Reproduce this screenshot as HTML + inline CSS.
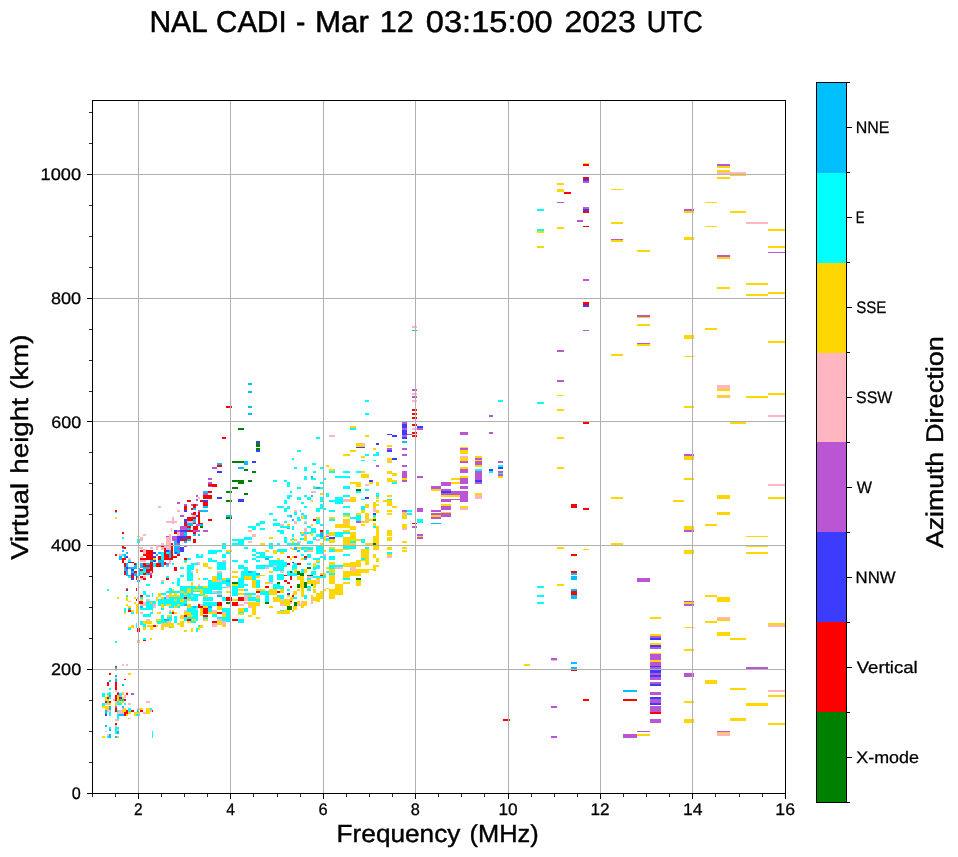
<!DOCTYPE html>
<html lang="en">
<head>
<meta charset="utf-8">
<title>NAL CADI - Mar 12 03:15:00 2023 UTC</title>
<style>
html,body{margin:0;padding:0;background:#fff;}
body{width:958px;height:857px;overflow:hidden;font-family:"Liberation Sans",sans-serif;}
svg{display:block;will-change:transform;}
text{font-family:"Liberation Sans",sans-serif;text-rendering:geometricPrecision;}
</style>
</head>
<body>
<svg width="958" height="857" viewBox="0 0 958 857">
<rect width="958" height="857" fill="#fff"/>
<g id="data" shape-rendering="crispEdges">
<path fill="#00bfff" d="M412 330h5v1h-5zM248 383h4v2h-4zM248 391h4v2h-4zM248 406h4v2h-4zM248 413h4v2h-4zM402 441h5v2h-5zM244 461h4v4h-4zM217 463h5v2h-5zM238 467h6v2h-6zM311 476h2v2h-2zM316 487h4v2h-4zM203 491h5v2h-5zM311 495h2v2h-2zM203 506h5v2h-5zM193 508h3v2h-3zM200 510h8v2h-8zM226 515h6v2h-6zM290 515h2v2h-2zM292 519h2v2h-2zM193 519h3v4h-3zM431 523h10v1h-10zM187 523h6v3h-6zM200 524h3v2h-3zM287 528h3v1h-3zM187 528h4v2h-4zM184 532h3v4h-3zM198 534h2v2h-2zM193 534h3v2h-3zM320 532h3v5h-3zM187 539h4v2h-4zM184 541h3v2h-3zM174 541h3v4h-3zM174 546h6v2h-6zM294 547h3v3h-3zM174 548h3v2h-3zM122 550h2v2h-2zM297 550h3v2h-3zM174 550h6v2h-6zM158 552h3v2h-3zM174 552h1v2h-1zM177 552h3v2h-3zM126 552h2v2h-2zM156 554h2v2h-2zM169 550h2v8h-2zM124 554h2v4h-2zM119 556h3v4h-3zM265 558h4v2h-4zM304 558h3v2h-3zM150 560h3v2h-3zM158 560h6v3h-6zM136 563h1v2h-1zM146 563h4v2h-4zM161 563h3v4h-3zM126 563h2v4h-2zM140 563h3v4h-3zM134 565h3v2h-3zM140 567h10v1h-10zM128 567h9v2h-9zM143 568h7v1h-7zM124 567h2v4h-2zM248 571h4v2h-4zM131 571h3v2h-3zM126 571h2v4h-2zM146 573h4v2h-4zM256 573h4v2h-4zM571 573h6v2h-6zM139 568h1v8h-1zM134 573h3v3h-3zM126 575h5v1h-5zM137 576h2v2h-2zM571 576h6v4h-6zM226 580h4v2h-4zM137 580h3v2h-3zM126 588h2v1h-2zM571 589h6v2h-6zM217 595h5v2h-5zM571 595h6v4h-6zM164 597h2v2h-2zM184 604h3v2h-3zM208 606h4v2h-4zM193 606h3v2h-3zM140 606h3v2h-3zM128 608h3v2h-3zM164 619h5v2h-5zM571 662h6v2h-6zM115 667h2v2h-2zM571 667h6v2h-6zM115 675h2v2h-2zM115 679h2v3h-2zM109 680h2v2h-2zM122 684h2v2h-2zM623 690h14v2h-14zM109 695h2v2h-2zM119 699h5v2h-5zM122 706h2v2h-2zM109 706h2v4h-2zM137 710h2v2h-2zM105 710h2v4h-2zM119 714h5v2h-5zM105 725h2v2h-2zM109 729h2v2h-2zM117 731h2v3h-2zM109 734h2v4h-2zM115 736h2v2h-2z"/>
<path fill="#00ffff" d="M537 209h7v2h-7zM537 229h7v2h-7zM498 400h5v2h-5zM365 400h4v2h-4zM537 402h7v2h-7zM365 413h4v2h-4zM350 428h6v2h-6zM316 437h4v2h-4zM297 450h4v2h-4zM376 452h3v2h-3zM373 454h6v2h-6zM365 454h4v2h-4zM292 458h2v2h-2zM361 460h4v1h-4zM373 460h3v1h-3zM312 463h4v2h-4zM498 465h5v2h-5zM320 467h3v2h-3zM294 467h3v2h-3zM304 467h3v4h-3zM475 469h7v2h-7zM313 471h3v2h-3zM329 471h6v2h-6zM343 471h7v2h-7zM356 471h5v2h-5zM489 471h4v2h-4zM498 473h5v1h-5zM335 476h15v2h-15zM304 476h3v4h-3zM311 478h5v2h-5zM323 478h3v2h-3zM273 480h4v2h-4zM284 480h3v2h-3zM392 482h5v2h-5zM320 482h3v2h-3zM287 482h3v5h-3zM343 486h7v3h-7zM320 487h3v2h-3zM313 487h3v2h-3zM297 487h4v2h-4zM365 489h4v2h-4zM356 491h5v2h-5zM290 491h2v2h-2zM326 493h3v4h-3zM376 493h3v4h-3zM343 495h7v2h-7zM287 495h5v2h-5zM304 495h3v2h-3zM287 497h3v2h-3zM335 497h8v3h-8zM307 497h4v3h-4zM297 497h4v3h-4zM361 499h4v1h-4zM387 499h5v1h-5zM320 497h3v5h-3zM329 500h14v2h-14zM284 500h3v4h-3zM335 502h8v2h-8zM301 502h3v2h-3zM320 504h3v4h-3zM277 506h7v2h-7zM343 506h7v2h-7zM287 506h3v2h-3zM304 506h3v2h-3zM284 508h6v1h-6zM316 508h10v1h-10zM361 506h4v4h-4zM323 509h3v1h-3zM316 509h4v3h-4zM284 509h3v3h-3zM329 510h6v2h-6zM407 510h5v2h-5zM300 510h1v2h-1zM115 512h2v1h-2zM294 512h3v3h-3zM343 513h7v2h-7zM407 513h5v2h-5zM269 513h4v2h-4zM301 513h3v2h-3zM287 515h3v2h-3zM373 515h3v2h-3zM356 515h5v2h-5zM304 515h3v4h-3zM297 517h3v2h-3zM350 517h11v2h-11zM329 519h6v2h-6zM356 519h5v2h-5zM273 519h4v2h-4zM297 519h4v2h-4zM417 519h6v4h-6zM284 521h3v2h-3zM260 521h5v2h-5zM316 519h4v5h-4zM256 523h9v1h-9zM304 523h3v1h-3zM273 523h7v3h-7zM256 524h4v2h-4zM320 524h3v2h-3zM280 526h10v2h-10zM307 526h4v2h-4zM248 526h8v2h-8zM373 526h3v2h-3zM292 526h2v4h-2zM252 528h4v2h-4zM260 528h5v2h-5zM311 528h5v4h-5zM277 530h7v2h-7zM304 532h12v1h-12zM326 530h3v4h-3zM300 532h1v2h-1zM335 532h15v2h-15zM280 532h4v2h-4zM304 533h7v1h-7zM301 534h3v2h-3zM316 534h4v3h-4zM335 534h8v3h-8zM292 534h2v3h-2zM320 537h3v2h-3zM244 537h8v2h-8zM122 537h2v2h-2zM313 537h3v3h-3zM300 538h4v2h-4zM292 538h2v2h-2zM232 539h20v1h-20zM326 538h3v3h-3zM232 540h12v1h-12zM284 537h3v6h-3zM361 539h4v4h-4zM137 539h3v4h-3zM350 541h6v2h-6zM238 541h6v2h-6zM307 541h6v3h-6zM222 543h4v2h-4zM269 543h4v2h-4zM277 543h3v2h-3zM232 543h12v2h-12zM287 543h13v2h-13zM343 546h13v3h-13zM269 546h4v3h-4zM222 546h4v3h-4zM244 547h4v2h-4zM365 547h4v2h-4zM301 547h12v2h-12zM301 549h3v1h-3zM307 549h6v1h-6zM252 549h4v3h-4zM329 549h6v3h-6zM277 549h10v3h-10zM208 550h14v2h-14zM304 550h3v2h-3zM316 546h7v8h-7zM256 552h9v2h-9zM208 552h9v2h-9zM387 552h5v2h-5zM226 552h4v2h-4zM166 552h3v2h-3zM201 554h2v2h-2zM252 554h4v2h-4zM343 554h7v2h-7zM122 554h2v2h-2zM196 554h3v2h-3zM301 554h3v2h-3zM260 554h5v2h-5zM222 554h4v4h-4zM307 554h4v4h-4zM196 556h7v2h-7zM256 556h17v2h-17zM320 556h6v2h-6zM161 552h3v8h-3zM329 556h6v4h-6zM252 558h4v2h-4zM323 558h3v2h-3zM361 558h4v2h-4zM208 558h4v2h-4zM313 558h7v2h-7zM187 558h4v2h-4zM232 560h6v2h-6zM128 560h3v2h-3zM256 560h4v2h-4zM208 560h9v2h-9zM269 560h15v2h-15zM184 560h3v2h-3zM244 560h4v3h-4zM316 562h4v1h-4zM269 562h18v3h-18zM293 563h4v2h-4zM172 563h2v2h-2zM307 563h4v2h-4zM191 563h7v2h-7zM153 563h3v4h-3zM316 565h4v2h-4zM277 565h10v2h-10zM238 565h6v2h-6zM329 565h14v2h-14zM256 565h17v2h-17zM166 565h3v2h-3zM292 565h5v4h-5zM256 567h9v2h-9zM329 567h6v2h-6zM238 567h10v2h-10zM313 567h7v2h-7zM180 567h4v2h-4zM217 562h9v8h-9zM187 565h7v5h-7zM313 569h3v1h-3zM292 569h2v1h-2zM273 567h11v4h-11zM244 569h4v2h-4zM143 569h3v2h-3zM301 569h3v4h-3zM187 570h4v3h-4zM252 571h4v2h-4zM140 571h6v2h-6zM292 571h1v2h-1zM241 571h7v2h-7zM287 571h3v2h-3zM326 571h3v2h-3zM311 571h5v4h-5zM329 573h6v2h-6zM241 573h15v2h-15zM140 573h3v2h-3zM287 573h10v3h-10zM323 575h3v1h-3zM241 575h19v1h-19zM180 575h4v2h-4zM241 576h3v2h-3zM128 576h3v2h-3zM166 576h3v2h-3zM313 576h13v2h-13zM217 573h5v7h-5zM277 574h7v6h-7zM252 576h4v4h-4zM343 578h7v2h-7zM307 578h4v2h-4zM203 578h5v2h-5zM226 578h4v2h-4zM187 573h6v8h-6zM269 575h4v7h-4zM222 580h4v2h-4zM208 580h4v2h-4zM238 578h6v6h-6zM172 582h2v2h-2zM161 582h3v2h-3zM208 582h22v2h-22zM177 578h3v8h-3zM146 584h4v2h-4zM238 584h10v2h-10zM273 584h7v2h-7zM226 584h4v2h-4zM208 584h14v3h-14zM256 580h4v8h-4zM537 586h7v2h-7zM198 586h5v2h-5zM180 586h16v2h-16zM232 586h12v2h-12zM307 586h4v2h-4zM208 587h18v1h-18zM273 586h11v3h-11zM191 588h31v1h-31zM203 589h19v1h-19zM180 588h7v3h-7zM169 588h3v3h-3zM191 589h2v2h-2zM244 589h4v2h-4zM287 589h3v2h-3zM307 589h4v2h-4zM107 589h2v2h-2zM191 591h9v1h-9zM203 590h9v3h-9zM217 591h5v2h-5zM166 591h14v2h-14zM184 591h3v2h-3zM191 592h2v1h-2zM187 593h6v1h-6zM203 593h14v1h-14zM143 591h3v4h-3zM260 591h9v4h-9zM161 593h5v2h-5zM244 593h12v2h-12zM180 593h4v2h-4zM187 594h13v1h-13zM203 594h2v1h-2zM232 588h6v8h-6zM193 595h10v1h-10zM152 593h1v4h-1zM277 595h7v2h-7zM537 595h7v2h-7zM146 595h4v2h-4zM126 595h2v2h-2zM180 595h11v2h-11zM193 596h5v1h-5zM304 595h3v4h-3zM293 597h4v2h-4zM169 597h15v2h-15zM248 597h8v2h-8zM187 597h11v2h-11zM280 597h4v2h-4zM140 597h3v2h-3zM203 597h10v4h-10zM222 597h4v4h-4zM158 599h16v2h-16zM177 599h3v2h-3zM248 599h12v2h-12zM191 599h7v2h-7zM265 595h4v7h-4zM184 599h3v3h-3zM158 601h22v1h-22zM256 601h4v1h-4zM146 601h10v1h-10zM158 602h29v2h-29zM537 602h7v2h-7zM152 602h4v2h-4zM146 602h4v2h-4zM203 602h14v4h-14zM158 604h3v2h-3zM171 604h6v2h-6zM164 604h2v2h-2zM180 604h4v2h-4zM146 604h7v4h-7zM191 606h2v2h-2zM177 606h3v2h-3zM169 606h5v2h-5zM196 606h2v2h-2zM161 608h3v2h-3zM187 608h9v2h-9zM140 608h13v2h-13zM280 610h4v1h-4zM244 608h4v4h-4zM124 608h2v4h-2zM208 608h4v4h-4zM222 608h8v4h-8zM187 610h11v2h-11zM238 612h6v1h-6zM169 612h3v2h-3zM150 612h3v2h-3zM131 612h3v2h-3zM191 612h7v3h-7zM193 615h5v1h-5zM226 612h4v5h-4zM143 614h8v3h-8zM212 614h5v3h-5zM171 615h1v2h-1zM192 616h6v1h-6zM217 617h13v2h-13zM184 617h14v2h-14zM203 617h5v2h-5zM167 617h5v2h-5zM161 615h3v6h-3zM169 619h3v2h-3zM191 619h1v2h-1zM196 619h2v2h-2zM222 619h8v2h-8zM184 619h3v2h-3zM226 621h4v1h-4zM174 616h3v7h-3zM238 619h6v4h-6zM191 621h5v2h-5zM157 621h10v2h-10zM140 621h3v3h-3zM157 623h4v1h-4zM140 624h6v1h-6zM143 625h3v2h-3zM198 625h2v2h-2zM136 623h1v5h-1zM169 627h2v1h-2zM128 628h3v2h-3zM196 628h2v4h-2zM143 638h3v2h-3zM115 641h2v2h-2zM109 688h2v2h-2zM109 692h2v1h-2zM107 693h4v2h-4zM102 693h3v4h-3zM119 693h3v4h-3zM109 697h2v2h-2zM117 701h2v2h-2zM107 701h2v2h-2zM117 703h5v2h-5zM124 703h2v2h-2zM102 703h3v3h-3zM150 708h2v2h-2zM128 708h3v4h-3zM117 710h2v2h-2zM109 712h2v4h-2zM136 714h4v2h-4zM117 714h2v5h-2zM115 727h4v2h-4zM109 727h2v2h-2zM115 729h2v5h-2zM152 731h1v7h-1zM107 736h2v2h-2z"/>
<path fill="#ffd700" d="M583 163h6v1h-6zM717 166h13v2h-13zM717 170h13v2h-13zM730 174h16v2h-16zM717 177h13v2h-13zM557 183h7v2h-7zM611 189h12v1h-12zM557 189h7v3h-7zM705 202h12v1h-12zM684 211h10v2h-10zM730 211h16v2h-16zM611 222h12v2h-12zM705 226h12v1h-12zM557 227h7v2h-7zM768 229h17v2h-17zM537 231h7v2h-7zM684 237h10v3h-10zM611 240h12v2h-12zM768 246h17v2h-17zM537 246h7v2h-7zM637 250h13v2h-13zM717 257h13v2h-13zM746 283h22v2h-22zM717 287h13v2h-13zM768 292h17v2h-17zM746 294h22v2h-22zM637 317h13v1h-13zM637 324h13v2h-13zM705 328h12v2h-12zM684 335h10v4h-10zM768 341h17v2h-17zM637 344h13v2h-13zM611 354h12v2h-12zM684 356h10v1h-10zM717 389h13v2h-13zM768 393h17v2h-17zM557 395h7v1h-7zM717 395h13v2h-13zM746 396h22v2h-22zM684 406h10v2h-10zM557 409h7v2h-7zM730 422h16v2h-16zM350 426h6v2h-6zM365 435h4v2h-4zM557 437h7v2h-7zM356 443h5v2h-5zM387 445h5v2h-5zM356 445h9v2h-9zM460 447h8v1h-8zM373 448h3v2h-3zM350 450h6v2h-6zM460 450h8v4h-8zM343 454h7v2h-7zM361 456h4v2h-4zM475 456h7v2h-7zM684 456h10v4h-10zM387 458h5v2h-5zM460 458h8v3h-8zM475 460h7v1h-7zM387 461h5v2h-5zM326 465h3v2h-3zM475 465h7v2h-7zM557 467h7v2h-7zM460 467h8v2h-8zM329 469h6v2h-6zM387 471h5v2h-5zM361 471h4v2h-4zM387 473h10v1h-10zM392 474h5v2h-5zM361 474h8v4h-8zM460 476h8v2h-8zM498 476h5v2h-5zM387 478h5v2h-5zM402 478h5v2h-5zM684 478h10v2h-10zM451 478h9v2h-9zM387 480h10v2h-10zM369 482h4v2h-4zM451 482h9v2h-9zM350 482h11v2h-11zM376 482h3v4h-3zM356 484h5v3h-5zM313 486h3v1h-3zM431 489h10v2h-10zM320 493h3v2h-3zM475 493h7v2h-7zM387 495h5v2h-5zM441 495h19v2h-19zM717 495h13v4h-13zM768 497h17v2h-17zM376 497h3v2h-3zM611 497h12v2h-12zM350 497h6v5h-6zM383 500h9v2h-9zM376 500h3v2h-3zM311 500h2v2h-2zM673 500h11v2h-11zM373 502h3v2h-3zM387 502h5v4h-5zM441 504h10v2h-10zM373 504h6v2h-6zM365 504h4v4h-4zM460 506h8v2h-8zM392 506h5v2h-5zM373 506h3v2h-3zM387 510h5v2h-5zM361 510h4v3h-4zM376 510h3v3h-3zM441 512h10v1h-10zM402 512h5v1h-5zM717 512h13v3h-13zM356 513h5v2h-5zM387 513h5v2h-5zM343 515h7v2h-7zM431 515h10v2h-10zM365 513h4v6h-4zM402 515h5v4h-5zM316 517h4v2h-4zM329 517h6v2h-6zM373 517h3v2h-3zM301 517h3v2h-3zM115 517h2v2h-2zM369 519h4v2h-4zM343 519h7v4h-7zM361 521h8v2h-8zM373 523h3v3h-3zM705 524h12v2h-12zM361 524h4v2h-4zM311 524h2v2h-2zM287 524h3v2h-3zM335 524h15v2h-15zM402 524h5v4h-5zM335 526h21v2h-21zM684 526h10v4h-10zM350 528h6v2h-6zM343 530h7v2h-7zM301 532h3v2h-3zM376 526h3v10h-3zM387 530h5v6h-5zM329 532h6v4h-6zM311 533h2v3h-2zM350 532h6v5h-6zM746 536h22v1h-22zM417 536h6v1h-6zM137 536h3v1h-3zM269 537h4v2h-4zM343 537h13v2h-13zM323 536h3v5h-3zM304 536h3v5h-3zM387 537h5v4h-5zM343 539h18v2h-18zM294 539h3v2h-3zM290 539h2v2h-2zM373 536h6v7h-6zM329 539h6v4h-6zM343 541h7v2h-7zM402 541h5v2h-5zM292 541h2v2h-2zM320 543h3v2h-3zM376 543h3v2h-3zM365 543h8v2h-8zM343 543h13v2h-13zM611 543h12v2h-12zM260 543h5v2h-5zM746 546h22v1h-22zM557 547h7v2h-7zM329 547h6v2h-6zM297 547h4v2h-4zM402 547h5v2h-5zM373 546h6v4h-6zM387 547h5v3h-5zM292 548h2v2h-2zM583 549h6v1h-6zM335 549h15v1h-15zM304 549h3v1h-3zM335 550h8v2h-8zM226 550h6v2h-6zM323 550h3v2h-3zM311 550h2v2h-2zM265 550h4v2h-4zM402 550h5v2h-5zM684 550h10v4h-10zM273 550h4v4h-4zM746 552h22v2h-22zM280 552h4v2h-4zM387 554h5v2h-5zM361 549h8v9h-8zM373 554h3v4h-3zM292 556h2v2h-2zM153 558h3v2h-3zM277 558h3v2h-3zM365 558h4v2h-4zM301 558h3v2h-3zM290 558h2v2h-2zM356 560h13v1h-13zM376 558h3v4h-3zM316 560h4v2h-4zM356 561h5v1h-5zM350 562h11v1h-11zM184 562h3v1h-3zM365 561h4v4h-4zM329 562h6v3h-6zM313 563h3v4h-3zM203 563h5v4h-5zM343 563h18v4h-18zM373 565h6v2h-6zM208 567h4v2h-4zM326 567h3v2h-3zM373 567h3v2h-3zM356 569h20v1h-20zM373 570h3v1h-3zM356 570h13v1h-13zM329 569h6v4h-6zM294 569h3v4h-3zM196 569h2v4h-2zM304 569h3v4h-3zM343 571h26v2h-26zM269 571h4v2h-4zM232 571h6v2h-6zM320 573h6v2h-6zM343 573h18v3h-18zM260 575h5v1h-5zM343 576h7v2h-7zM232 576h6v2h-6zM256 576h4v2h-4zM244 576h8v4h-8zM297 576h7v4h-7zM316 578h4v2h-4zM198 578h2v2h-2zM222 578h4v2h-4zM212 576h5v6h-5zM307 580h9v2h-9zM329 575h6v9h-6zM343 582h7v2h-7zM307 582h13v2h-13zM265 582h4v2h-4zM356 580h5v6h-5zM191 582h2v4h-2zM557 584h7v2h-7zM232 584h6v2h-6zM252 580h4v8h-4zM300 580h4v8h-4zM313 584h3v4h-3zM196 586h2v2h-2zM203 586h5v2h-5zM335 584h8v5h-8zM307 588h4v1h-4zM326 588h3v1h-3zM256 589h9v2h-9zM323 589h3v2h-3zM172 589h2v2h-2zM297 589h3v2h-3zM238 589h6v2h-6zM193 589h10v2h-10zM187 588h4v5h-4zM313 589h3v4h-3zM280 589h4v4h-4zM320 591h3v2h-3zM226 591h4v2h-4zM180 591h4v2h-4zM269 589h8v6h-8zM329 589h14v6h-14zM293 591h4v4h-4zM200 591h3v4h-3zM169 593h3v2h-3zM238 593h6v2h-6zM174 593h3v2h-3zM184 593h3v2h-3zM301 588h3v9h-3zM158 593h3v4h-3zM316 593h7v4h-7zM705 595h12v2h-12zM311 595h2v2h-2zM287 595h3v2h-3zM169 595h11v2h-11zM203 595h5v2h-5zM248 595h4v2h-4zM329 595h6v4h-6zM311 597h12v2h-12zM117 597h2v2h-2zM161 597h3v2h-3zM290 597h3v2h-3zM256 597h4v2h-4zM134 597h2v2h-2zM156 597h2v4h-2zM273 597h7v4h-7zM126 597h2v4h-2zM284 599h9v2h-9zM232 599h6v2h-6zM174 599h3v2h-3zM313 599h7v2h-7zM187 599h4v2h-4zM140 599h3v2h-3zM717 597h13v5h-13zM180 599h4v3h-4zM316 601h4v1h-4zM273 601h17v1h-17zM128 601h3v1h-3zM301 601h6v1h-6zM297 601h3v3h-3zM150 602h2v2h-2zM280 602h10v2h-10zM684 602h10v2h-10zM134 602h2v2h-2zM304 602h3v2h-3zM248 602h12v4h-12zM284 604h6v2h-6zM166 604h5v2h-5zM177 604h3v2h-3zM126 604h2v2h-2zM301 604h6v2h-6zM161 604h3v4h-3zM187 604h4v4h-4zM269 606h4v2h-4zM128 606h3v2h-3zM174 606h3v2h-3zM203 606h5v2h-5zM301 606h3v2h-3zM217 606h5v4h-5zM293 606h4v4h-4zM284 610h6v1h-6zM238 608h6v4h-6zM172 610h2v2h-2zM292 610h2v2h-2zM131 610h3v2h-3zM152 610h1v2h-1zM136 604h2v10h-2zM277 611h13v3h-13zM124 612h2v2h-2zM157 612h4v2h-4zM174 612h3v2h-3zM208 612h9v2h-9zM252 606h4v9h-4zM184 612h7v3h-7zM238 613h6v2h-6zM200 608h3v8h-3zM187 615h6v1h-6zM222 614h4v3h-4zM167 615h4v2h-4zM248 615h4v2h-4zM187 616h5v1h-5zM180 615h4v4h-4zM256 617h4v2h-4zM650 617h11v2h-11zM717 619h13v2h-13zM192 619h4v2h-4zM203 619h5v2h-5zM156 619h5v2h-5zM705 621h12v2h-12zM156 621h1v2h-1zM187 621h4v2h-4zM180 621h4v2h-4zM143 621h9v3h-9zM217 621h5v4h-5zM768 623h17v2h-17zM177 623h7v2h-7zM161 623h13v2h-13zM147 625h6v2h-6zM222 625h4v2h-4zM156 625h2v2h-2zM200 625h3v2h-3zM164 625h10v2h-10zM131 625h3v2h-3zM180 625h4v2h-4zM171 627h3v1h-3zM198 627h5v1h-5zM684 627h10v1h-10zM128 627h6v1h-6zM143 627h3v3h-3zM161 627h3v3h-3zM150 627h3v3h-3zM198 628h2v2h-2zM191 628h2v4h-2zM184 630h3v2h-3zM717 632h13v4h-13zM650 634h11v2h-11zM150 638h2v2h-2zM730 638h16v2h-16zM137 640h3v1h-3zM650 643h11v2h-11zM684 649h10v2h-10zM650 653h11v1h-11zM650 660h11v2h-11zM524 664h6v2h-6zM128 673h3v2h-3zM705 680h12v4h-12zM730 688h16v2h-16zM122 693h2v2h-2zM768 695h17v2h-17zM107 695h2v2h-2zM105 697h2v2h-2zM122 697h2v2h-2zM117 695h2v6h-2zM105 699h4v2h-4zM684 701h10v2h-10zM119 701h5v2h-5zM107 703h4v2h-4zM115 703h2v3h-2zM746 703h22v3h-22zM102 706h7v2h-7zM124 708h2v2h-2zM140 708h3v2h-3zM105 708h4v2h-4zM122 710h4v2h-4zM146 708h4v6h-4zM134 712h6v2h-6zM128 712h3v2h-3zM134 714h2v2h-2zM126 714h2v2h-2zM730 718h16v3h-16zM684 719h10v4h-10zM768 723h17v2h-17zM717 732h13v1h-13zM637 734h13v2h-13zM102 736h3v2h-3zM117 736h2v2h-2z"/>
<path fill="#ffb6c1" d="M717 172h29v2h-29zM746 222h22v2h-22zM412 326h5v2h-5zM717 385h13v4h-13zM412 393h5v2h-5zM717 397h13v1h-13zM412 400h5v2h-5zM768 415h17v2h-17zM412 428h5v2h-5zM329 435h6v2h-6zM361 443h4v2h-4zM460 456h8v2h-8zM387 460h5v1h-5zM768 484h17v2h-17zM365 484h4v2h-4zM311 491h5v2h-5zM475 495h7v4h-7zM198 497h2v2h-2zM343 499h7v3h-7zM158 506h3v2h-3zM460 508h8v2h-8zM373 508h3v4h-3zM177 510h3v2h-3zM294 510h3v2h-3zM402 513h5v2h-5zM192 515h4v2h-4zM301 515h3v2h-3zM290 517h2v1h-2zM172 517h2v4h-2zM365 519h4v2h-4zM187 521h6v2h-6zM166 521h11v2h-11zM304 521h3v2h-3zM294 521h3v3h-3zM172 523h2v1h-2zM343 523h7v1h-7zM280 524h4v2h-4zM402 528h5v2h-5zM304 528h3v4h-3zM171 528h1v4h-1zM248 530h4v2h-4zM177 532h3v4h-3zM143 534h3v2h-3zM326 534h3v2h-3zM304 534h3v2h-3zM252 534h4v3h-4zM169 534h2v3h-2zM140 537h3v4h-3zM316 539h4v2h-4zM297 541h4v2h-4zM248 541h4v2h-4zM166 537h5v8h-5zM161 543h3v2h-3zM164 546h7v1h-7zM156 546h5v1h-5zM161 547h10v1h-10zM139 547h4v2h-4zM150 547h3v2h-3zM290 547h2v2h-2zM156 547h2v3h-2zM166 548h5v2h-5zM161 548h3v2h-3zM307 550h4v2h-4zM143 549h3v5h-3zM119 554h3v2h-3zM323 554h3v2h-3zM387 556h5v2h-5zM140 556h3v2h-3zM128 558h3v2h-3zM140 560h6v2h-6zM222 560h4v2h-4zM196 562h4v1h-4zM169 560h2v4h-2zM198 563h2v2h-2zM273 565h4v2h-4zM335 567h8v2h-8zM265 567h4v2h-4zM350 567h6v4h-6zM150 571h2v2h-2zM217 571h5v2h-5zM191 571h2v2h-2zM280 571h4v2h-4zM143 576h3v2h-3zM307 576h6v2h-6zM140 578h3v2h-3zM316 580h4v2h-4zM161 580h3v2h-3zM217 580h5v2h-5zM269 582h4v2h-4zM198 584h2v2h-2zM226 586h4v2h-4zM212 591h5v2h-5zM217 593h5v2h-5zM256 595h4v2h-4zM191 595h2v2h-2zM166 595h3v4h-3zM137 597h2v2h-2zM244 595h4v6h-4zM146 599h4v2h-4zM280 599h4v2h-4zM311 599h2v5h-2zM244 602h4v2h-4zM143 602h3v2h-3zM301 602h3v2h-3zM290 602h2v2h-2zM140 604h6v2h-6zM200 604h3v2h-3zM238 604h6v2h-6zM297 604h4v2h-4zM280 604h4v2h-4zM153 604h3v4h-3zM248 606h4v2h-4zM196 608h2v2h-2zM212 610h5v2h-5zM169 610h2v2h-2zM184 610h3v2h-3zM222 612h4v2h-4zM140 612h3v2h-3zM717 617h13v2h-13zM217 619h5v2h-5zM146 619h4v2h-4zM167 621h4v2h-4zM222 621h4v4h-4zM212 623h5v4h-5zM768 625h17v2h-17zM161 625h3v2h-3zM137 641h3v2h-3zM551 660h6v1h-6zM122 664h2v2h-2zM126 664h2v2h-2zM115 669h2v2h-2zM115 677h2v2h-2zM115 690h2v2h-2zM768 690h17v2h-17zM122 692h2v1h-2zM126 692h2v1h-2zM124 695h2v3h-2zM113 699h2v2h-2zM115 701h2v2h-2zM146 701h4v2h-4zM128 703h3v2h-3zM105 703h2v2h-2zM137 708h3v2h-3zM122 708h2v2h-2zM150 710h2v2h-2zM119 710h3v2h-3zM107 710h4v2h-4zM117 712h7v2h-7zM143 712h3v2h-3zM128 718h3v1h-3zM115 719h4v2h-4zM115 725h2v2h-2zM117 729h2v2h-2zM105 731h2v1h-2zM717 733h13v3h-13zM107 734h2v2h-2z"/>
<path fill="#ba55d3" d="M717 164h13v2h-13zM583 181h6v2h-6zM557 202h7v1h-7zM583 207h6v2h-6zM684 209h10v2h-10zM577 220h6v2h-6zM611 239h12v1h-12zM768 252h17v1h-17zM717 255h13v2h-13zM583 279h6v2h-6zM637 315h13v2h-13zM583 330h6v1h-6zM637 343h13v1h-13zM557 350h7v2h-7zM557 380h7v2h-7zM412 389h5v2h-5zM412 396h5v2h-5zM489 415h4v2h-4zM402 422h5v2h-5zM402 428h5v2h-5zM417 428h6v2h-6zM489 432h4v2h-4zM460 432h8v3h-8zM407 434h5v1h-5zM402 435h5v2h-5zM387 448h5v2h-5zM402 448h5v2h-5zM460 448h8v2h-8zM684 454h10v2h-10zM402 454h5v2h-5zM475 458h7v2h-7zM460 461h8v2h-8zM498 461h5v2h-5zM475 461h7v4h-7zM402 465h5v2h-5zM376 465h3v2h-3zM212 467h5v2h-5zM460 469h8v4h-8zM498 471h5v2h-5zM498 474h5v2h-5zM402 471h5v7h-5zM417 476h6v2h-6zM475 471h7v9h-7zM208 478h4v2h-4zM402 480h5v2h-5zM460 478h8v6h-8zM208 482h4v2h-4zM475 482h7v2h-7zM441 482h10v4h-10zM208 486h4v1h-4zM460 486h8v3h-8zM431 486h10v3h-10zM441 489h10v2h-10zM451 491h17v2h-17zM441 493h27v2h-27zM203 493h5v2h-5zM196 495h2v2h-2zM460 495h8v4h-8zM441 499h27v1h-27zM196 499h2v2h-2zM441 500h10v2h-10zM460 500h8v2h-8zM177 502h3v2h-3zM196 504h2v2h-2zM191 504h2v2h-2zM184 504h3v2h-3zM441 506h10v4h-10zM417 508h6v4h-6zM402 510h5v2h-5zM198 510h2v2h-2zM431 510h10v2h-10zM191 513h2v2h-2zM431 513h20v2h-20zM441 515h10v2h-10zM180 515h4v2h-4zM431 517h10v2h-10zM356 521h5v2h-5zM196 524h4v2h-4zM412 526h5v2h-5zM180 526h7v4h-7zM177 530h3v2h-3zM684 530h10v2h-10zM193 530h7v2h-7zM203 530h5v2h-5zM180 532h4v4h-4zM417 534h6v2h-6zM166 536h3v1h-3zM326 536h3v1h-3zM417 537h6v2h-6zM172 536h5v5h-5zM177 543h3v2h-3zM184 546h3v1h-3zM122 548h2v1h-2zM177 548h3v2h-3zM166 563h3v2h-3zM126 569h2v2h-2zM150 573h2v2h-2zM637 578h13v4h-13zM684 601h10v1h-10zM684 604h10v2h-10zM650 636h11v2h-11zM650 647h11v2h-11zM650 654h11v6h-11zM551 658h6v2h-6zM650 662h11v4h-11zM746 667h22v2h-22zM650 667h11v3h-11zM650 673h11v2h-11zM684 673h10v4h-10zM650 677h11v3h-11zM650 682h11v2h-11zM117 692h2v1h-2zM650 692h11v3h-11zM131 693h3v2h-3zM650 699h11v4h-11zM115 706h2v2h-2zM551 706h6v2h-6zM650 706h11v6h-11zM650 719h11v4h-11zM637 731h13v1h-13zM717 731h13v1h-13zM623 734h14v4h-14zM551 736h6v2h-6z"/>
<path fill="#3c3cff" d="M583 179h6v2h-6zM583 209h6v2h-6zM583 305h6v2h-6zM402 424h5v4h-5zM417 426h6v2h-6zM402 430h5v5h-5zM387 434h5v1h-5zM392 435h5v2h-5zM402 437h5v2h-5zM256 441h4v2h-4zM376 443h3v2h-3zM356 447h9v1h-9zM387 450h5v2h-5zM256 450h4v2h-4zM392 458h5v2h-5zM252 461h4v2h-4zM498 467h5v2h-5zM489 469h4v2h-4zM217 471h5v2h-5zM369 480h4v2h-4zM475 480h7v2h-7zM441 491h10v2h-10zM217 497h5v2h-5zM365 497h4v2h-4zM238 499h6v3h-6zM203 500h5v2h-5zM184 510h3v2h-3zM373 513h3v2h-3zM196 515h2v2h-2zM184 519h3v4h-3zM174 530h3v2h-3zM180 530h7v2h-7zM177 536h10v3h-10zM329 537h6v2h-6zM177 539h3v4h-3zM180 547h4v5h-4zM166 550h3v2h-3zM175 552h2v2h-2zM153 552h3v2h-3zM153 556h3v2h-3zM126 556h2v2h-2zM153 560h3v2h-3zM128 562h3v1h-3zM292 562h2v1h-2zM126 567h2v2h-2zM131 569h3v2h-3zM131 573h3v2h-3zM131 578h3v2h-3zM287 593h3v2h-3zM650 638h11v2h-11zM650 645h11v2h-11zM650 666h11v1h-11zM650 670h11v3h-11zM650 675h11v2h-11zM650 684h11v2h-11zM650 697h11v2h-11zM650 703h11v2h-11zM105 714h2v2h-2z"/>
<path fill="#ff0000" d="M583 164h6v2h-6zM583 177h6v2h-6zM564 192h7v2h-7zM583 211h6v2h-6zM583 226h6v1h-6zM583 302h6v3h-6zM226 406h6v2h-6zM412 409h5v2h-5zM412 413h5v2h-5zM412 417h5v2h-5zM583 422h6v2h-6zM412 424h5v2h-5zM412 432h5v2h-5zM412 435h5v2h-5zM222 437h4v2h-4zM217 465h5v2h-5zM208 484h9v2h-9zM212 486h5v1h-5zM208 491h4v2h-4zM203 495h9v4h-9zM200 500h3v2h-3zM187 500h4v2h-4zM203 502h5v4h-5zM193 504h3v4h-3zM571 504h6v4h-6zM184 506h3v4h-3zM583 508h6v2h-6zM191 508h2v2h-2zM115 510h2v2h-2zM193 512h3v3h-3zM187 517h9v2h-9zM187 519h6v2h-6zM208 519h4v2h-4zM313 519h3v2h-3zM198 512h2v11h-2zM412 523h5v1h-5zM193 523h3v1h-3zM198 523h5v1h-5zM184 523h3v3h-3zM187 526h4v2h-4zM193 526h5v4h-5zM187 530h6v2h-6zM320 530h3v2h-3zM193 532h3v2h-3zM174 532h3v2h-3zM122 532h2v2h-2zM187 536h4v3h-4zM180 539h7v2h-7zM193 539h3v4h-3zM161 546h3v1h-3zM122 546h2v1h-2zM122 547h4v1h-4zM124 548h2v1h-2zM140 550h3v2h-3zM164 548h2v6h-2zM146 550h7v4h-7zM171 543h2v13h-2zM143 554h10v2h-10zM177 554h3v2h-3zM115 554h2v2h-2zM571 554h6v2h-6zM164 554h5v4h-5zM294 556h3v2h-3zM287 556h3v2h-3zM171 556h6v2h-6zM146 556h7v2h-7zM304 556h3v2h-3zM158 556h3v4h-3zM122 558h4v2h-4zM164 558h9v2h-9zM140 558h13v2h-13zM184 558h3v2h-3zM122 560h2v3h-2zM131 562h3v1h-3zM164 562h2v3h-2zM150 562h3v3h-3zM287 563h3v2h-3zM143 563h3v2h-3zM134 563h2v2h-2zM297 563h4v2h-4zM124 563h2v4h-2zM156 563h5v4h-5zM143 565h10v2h-10zM150 567h3v2h-3zM174 567h3v4h-3zM140 569h3v2h-3zM146 569h7v2h-7zM146 571h4v2h-4zM134 571h3v2h-3zM571 571h6v2h-6zM152 571h1v2h-1zM124 571h2v4h-2zM143 573h3v2h-3zM320 575h3v1h-3zM284 575h3v1h-3zM150 575h2v3h-2zM131 575h3v3h-3zM140 576h3v2h-3zM136 576h1v4h-1zM290 576h2v4h-2zM166 578h3v2h-3zM143 578h3v2h-3zM284 580h3v2h-3zM287 582h3v2h-3zM265 586h4v2h-4zM290 586h2v2h-2zM136 588h1v3h-1zM126 589h2v2h-2zM256 591h4v2h-4zM277 591h3v2h-3zM571 591h6v4h-6zM292 595h2v2h-2zM140 595h3v2h-3zM184 597h3v2h-3zM238 597h6v4h-6zM226 597h6v4h-6zM136 599h1v2h-1zM290 601h2v1h-2zM139 601h4v3h-4zM217 602h5v4h-5zM232 602h6v4h-6zM198 604h2v2h-2zM198 606h5v2h-5zM128 610h3v2h-3zM203 608h5v6h-5zM172 612h2v2h-2zM217 612h5v2h-5zM203 615h5v2h-5zM184 615h3v2h-3zM232 619h6v2h-6zM187 619h4v2h-4zM212 621h5v2h-5zM153 625h3v2h-3zM137 628h3v4h-3zM143 640h3v1h-3zM115 666h2v1h-2zM571 669h6v2h-6zM109 673h2v2h-2zM124 679h2v1h-2zM107 682h2v4h-2zM115 682h2v8h-2zM117 693h2v2h-2zM126 693h2v2h-2zM119 697h3v2h-3zM107 697h2v2h-2zM115 695h2v6h-2zM583 699h6v2h-6zM623 699h14v2h-14zM124 699h2v2h-2zM105 701h2v2h-2zM109 701h2v2h-2zM115 708h2v4h-2zM131 710h3v2h-3zM126 710h2v2h-2zM140 710h3v2h-3zM152 710h1v2h-1zM124 712h4v2h-4zM650 712h11v2h-11zM124 714h2v2h-2zM503 719h7v2h-7zM115 723h2v2h-2z"/>
<path fill="#008000" d="M238 428h6v2h-6zM256 443h4v4h-4zM256 448h4v2h-4zM232 461h12v2h-12zM244 469h4v2h-4zM252 471h4v2h-4zM232 480h12v2h-12zM248 480h4v2h-4zM238 482h6v2h-6zM232 487h6v2h-6zM356 489h5v2h-5zM226 491h6v2h-6zM244 493h4v2h-4zM226 500h6v2h-6zM226 517h6v2h-6zM373 519h3v2h-3zM200 526h3v2h-3zM373 543h3v2h-3zM307 567h4v2h-4zM290 571h2v2h-2zM297 571h3v2h-3zM297 573h7v2h-7zM300 575h4v1h-4zM307 575h6v1h-6zM356 578h5v2h-5zM277 582h3v2h-3zM232 582h6v2h-6zM311 584h2v2h-2zM304 582h3v6h-3zM297 584h3v4h-3zM226 602h4v2h-4zM265 602h4v2h-4zM294 602h3v4h-3zM287 606h5v4h-5z"/>
</g>
<g id="grid" shape-rendering="crispEdges">
<g fill="#b0b0b0"><rect x="138" y="101" width="1" height="692"/><rect x="230" y="101" width="1" height="692"/><rect x="323" y="101" width="1" height="692"/><rect x="415" y="101" width="1" height="692"/><rect x="508" y="101" width="1" height="692"/><rect x="600" y="101" width="1" height="692"/><rect x="692" y="101" width="1" height="692"/><rect x="93" y="669" width="692" height="1"/><rect x="93" y="545" width="692" height="1"/><rect x="93" y="421" width="692" height="1"/><rect x="93" y="298" width="692" height="1"/><rect x="93" y="174" width="692" height="1"/></g>
</g>
<g id="axes" shape-rendering="crispEdges">
<g fill="#000"><rect x="92" y="794" width="1" height="3" fill="#2a2a2a"/><rect x="115" y="794" width="1" height="3" fill="#2a2a2a"/><rect x="138" y="794" width="1" height="5"/><rect x="161" y="794" width="1" height="3" fill="#2a2a2a"/><rect x="184" y="794" width="1" height="3" fill="#2a2a2a"/><rect x="207" y="794" width="1" height="3" fill="#2a2a2a"/><rect x="230" y="794" width="1" height="5"/><rect x="253" y="794" width="1" height="3" fill="#2a2a2a"/><rect x="277" y="794" width="1" height="3" fill="#2a2a2a"/><rect x="300" y="794" width="1" height="3" fill="#2a2a2a"/><rect x="323" y="794" width="1" height="5"/><rect x="346" y="794" width="1" height="3" fill="#2a2a2a"/><rect x="369" y="794" width="1" height="3" fill="#2a2a2a"/><rect x="392" y="794" width="1" height="3" fill="#2a2a2a"/><rect x="415" y="794" width="1" height="5"/><rect x="438" y="794" width="1" height="3" fill="#2a2a2a"/><rect x="461" y="794" width="1" height="3" fill="#2a2a2a"/><rect x="484" y="794" width="1" height="3" fill="#2a2a2a"/><rect x="508" y="794" width="1" height="5"/><rect x="531" y="794" width="1" height="3" fill="#2a2a2a"/><rect x="554" y="794" width="1" height="3" fill="#2a2a2a"/><rect x="577" y="794" width="1" height="3" fill="#2a2a2a"/><rect x="600" y="794" width="1" height="5"/><rect x="623" y="794" width="1" height="3" fill="#2a2a2a"/><rect x="646" y="794" width="1" height="3" fill="#2a2a2a"/><rect x="669" y="794" width="1" height="3" fill="#2a2a2a"/><rect x="692" y="794" width="1" height="5"/><rect x="715" y="794" width="1" height="3" fill="#2a2a2a"/><rect x="739" y="794" width="1" height="3" fill="#2a2a2a"/><rect x="762" y="794" width="1" height="3" fill="#2a2a2a"/><rect x="785" y="794" width="1" height="5"/><rect x="87" y="793" width="5" height="1"/><rect x="89" y="762" width="3" height="1" fill="#2a2a2a"/><rect x="89" y="731" width="3" height="1" fill="#2a2a2a"/><rect x="89" y="700" width="3" height="1" fill="#2a2a2a"/><rect x="87" y="669" width="5" height="1"/><rect x="89" y="638" width="3" height="1" fill="#2a2a2a"/><rect x="89" y="607" width="3" height="1" fill="#2a2a2a"/><rect x="89" y="576" width="3" height="1" fill="#2a2a2a"/><rect x="87" y="545" width="5" height="1"/><rect x="89" y="514" width="3" height="1" fill="#2a2a2a"/><rect x="89" y="483" width="3" height="1" fill="#2a2a2a"/><rect x="89" y="452" width="3" height="1" fill="#2a2a2a"/><rect x="87" y="421" width="5" height="1"/><rect x="89" y="391" width="3" height="1" fill="#2a2a2a"/><rect x="89" y="360" width="3" height="1" fill="#2a2a2a"/><rect x="89" y="329" width="3" height="1" fill="#2a2a2a"/><rect x="87" y="298" width="5" height="1"/><rect x="89" y="267" width="3" height="1" fill="#2a2a2a"/><rect x="89" y="236" width="3" height="1" fill="#2a2a2a"/><rect x="89" y="205" width="3" height="1" fill="#2a2a2a"/><rect x="87" y="174" width="5" height="1"/><rect x="89" y="143" width="3" height="1" fill="#2a2a2a"/><rect x="89" y="112" width="3" height="1" fill="#2a2a2a"/><rect x="92" y="100" width="694" height="1"/><rect x="92" y="793" width="694" height="1"/><rect x="92" y="100" width="1" height="694"/><rect x="785" y="100" width="1" height="694"/></g>
</g>
<g id="colorbar" shape-rendering="crispEdges">
<rect x="817" y="83" width="30" height="90" fill="#00bfff"/>
<rect x="817" y="173" width="30" height="90" fill="#00ffff"/>
<rect x="817" y="263" width="30" height="90" fill="#ffd700"/>
<rect x="817" y="353" width="30" height="89" fill="#ffb6c1"/>
<rect x="817" y="442" width="30" height="90" fill="#ba55d3"/>
<rect x="817" y="532" width="30" height="90" fill="#3c3cff"/>
<rect x="817" y="622" width="30" height="90" fill="#ff0000"/>
<rect x="817" y="712" width="30" height="90" fill="#008000"/>
<g fill="#000"><rect x="816" y="82" width="31" height="1"/><rect x="816" y="802" width="31" height="1"/><rect x="816" y="82" width="1" height="721"/><rect x="846" y="82" width="1" height="721"/>
<rect x="847" y="82" width="3" height="1"/>
<rect x="847" y="172" width="3" height="1"/>
<rect x="847" y="262" width="3" height="1"/>
<rect x="847" y="352" width="3" height="1"/>
<rect x="847" y="442" width="3" height="1"/>
<rect x="847" y="532" width="3" height="1"/>
<rect x="847" y="622" width="3" height="1"/>
<rect x="847" y="712" width="3" height="1"/>
<rect x="847" y="802" width="3" height="1"/>
<rect x="847" y="127" width="5" height="1"/>
<rect x="847" y="217" width="5" height="1"/>
<rect x="847" y="307" width="5" height="1"/>
<rect x="847" y="397" width="5" height="1"/>
<rect x="847" y="487" width="5" height="1"/>
<rect x="847" y="577" width="5" height="1"/>
<rect x="847" y="667" width="5" height="1"/>
<rect x="847" y="757" width="5" height="1"/>
</g>
</g>
<g id="labels">
<g fill="#000" stroke="#000" font-family="Liberation Sans, sans-serif"><text id="title" font-size="30.20" stroke-width="0.48"><tspan x="149.40" y="31.80" textLength="57.33" lengthAdjust="spacingAndGlyphs">NAL</tspan> <tspan x="216.10" y="31.80" textLength="70.51" lengthAdjust="spacingAndGlyphs">CADI</tspan> <tspan x="296.00" y="31.80" textLength="9.35" lengthAdjust="spacingAndGlyphs">-</tspan> <tspan x="315.00" y="31.80" textLength="54.00" lengthAdjust="spacingAndGlyphs">Mar</tspan> <tspan x="379.79" y="31.80" textLength="34.04" lengthAdjust="spacingAndGlyphs">12</tspan> <tspan x="425.83" y="31.80" textLength="126.87" lengthAdjust="spacingAndGlyphs">03:15:00</tspan> <tspan x="564.46" y="31.80" textLength="71.30" lengthAdjust="spacingAndGlyphs">2023</tspan> <tspan x="646.72" y="31.80" textLength="56.11" lengthAdjust="spacingAndGlyphs">UTC</tspan></text>
<text id="xlabel" font-size="24.65" stroke-width="0.39"><tspan x="336.61" y="841.70" textLength="123.71" lengthAdjust="spacingAndGlyphs">Frequency</tspan> <tspan x="469.62" y="841.70" textLength="69.17" lengthAdjust="spacingAndGlyphs">(MHz)</tspan></text>
<text id="ylabel" transform="translate(28.00 559.74) rotate(-90)" font-size="24.45" stroke-width="0.39"><tspan x="0.00" y="0" textLength="76.74" lengthAdjust="spacingAndGlyphs">Virtual</tspan> <tspan x="86.01" y="0" textLength="75.73" lengthAdjust="spacingAndGlyphs">height</tspan> <tspan x="170.02" y="0" textLength="55.28" lengthAdjust="spacingAndGlyphs">(km)</tspan></text>
<text id="cblabel" transform="translate(943.20 548.01) rotate(-90)" font-size="24.20" stroke-width="0.39"><tspan x="0.00" y="0" textLength="96.14" lengthAdjust="spacingAndGlyphs">Azimuth</tspan> <tspan x="105.01" y="0" textLength="106.85" lengthAdjust="spacingAndGlyphs">Direction</tspan></text>
<text x="133.89" y="815.00" font-size="16.70" stroke-width="0.27" textLength="8.62" lengthAdjust="spacingAndGlyphs">2</text>
<text x="226.31" y="815.00" font-size="16.70" stroke-width="0.27" textLength="8.66" lengthAdjust="spacingAndGlyphs">4</text>
<text x="318.47" y="815.00" font-size="16.70" stroke-width="0.27" textLength="9.16" lengthAdjust="spacingAndGlyphs">6</text>
<text x="410.70" y="815.00" font-size="16.70" stroke-width="0.27" textLength="9.07" lengthAdjust="spacingAndGlyphs">8</text>
<text x="498.50" y="815.00" font-size="16.70" stroke-width="0.27" textLength="19.24" lengthAdjust="spacingAndGlyphs">10</text>
<text x="590.56" y="815.00" font-size="16.70" stroke-width="0.27" textLength="19.15" lengthAdjust="spacingAndGlyphs">12</text>
<text x="682.97" y="815.00" font-size="16.70" stroke-width="0.27" textLength="19.55" lengthAdjust="spacingAndGlyphs">14</text>
<text x="775.39" y="815.00" font-size="16.70" stroke-width="0.27" textLength="19.64" lengthAdjust="spacingAndGlyphs">16</text>
<text x="71.76" y="798.85" font-size="16.70" stroke-width="0.27" textLength="9.02" lengthAdjust="spacingAndGlyphs">0</text>
<text x="51.02" y="675.10" font-size="16.70" stroke-width="0.27" textLength="30.19" lengthAdjust="spacingAndGlyphs">200</text>
<text x="51.07" y="551.35" font-size="16.70" stroke-width="0.27" textLength="30.08" lengthAdjust="spacingAndGlyphs">400</text>
<text x="51.24" y="427.60" font-size="16.70" stroke-width="0.27" textLength="29.85" lengthAdjust="spacingAndGlyphs">600</text>
<text x="50.98" y="303.85" font-size="16.70" stroke-width="0.27" textLength="30.12" lengthAdjust="spacingAndGlyphs">800</text>
<text x="40.62" y="180.10" font-size="16.70" stroke-width="0.27" textLength="40.43" lengthAdjust="spacingAndGlyphs">1000</text>
<text x="855.63" y="133.30" font-size="16.70" stroke-width="0.27" textLength="33.69" lengthAdjust="spacingAndGlyphs">NNE</text>
<text x="855.68" y="223.30" font-size="16.70" stroke-width="0.27" textLength="8.76" lengthAdjust="spacingAndGlyphs">E</text>
<text x="856.21" y="313.30" font-size="16.70" stroke-width="0.27" textLength="30.13" lengthAdjust="spacingAndGlyphs">SSE</text>
<text x="856.03" y="403.30" font-size="16.70" stroke-width="0.27" textLength="36.30" lengthAdjust="spacingAndGlyphs">SSW</text>
<text x="856.70" y="493.30" font-size="16.70" stroke-width="0.27" textLength="15.23" lengthAdjust="spacingAndGlyphs">W</text>
<text x="855.55" y="583.30" font-size="16.70" stroke-width="0.27" textLength="40.00" lengthAdjust="spacingAndGlyphs">NNW</text>
<text x="856.73" y="673.30" font-size="16.70" stroke-width="0.27" textLength="60.99" lengthAdjust="spacingAndGlyphs">Vertical</text>
<text x="856.31" y="763.30" font-size="16.70" stroke-width="0.27" textLength="62.66" lengthAdjust="spacingAndGlyphs">X-mode</text></g>
</g>
</svg>
</body>
</html>
